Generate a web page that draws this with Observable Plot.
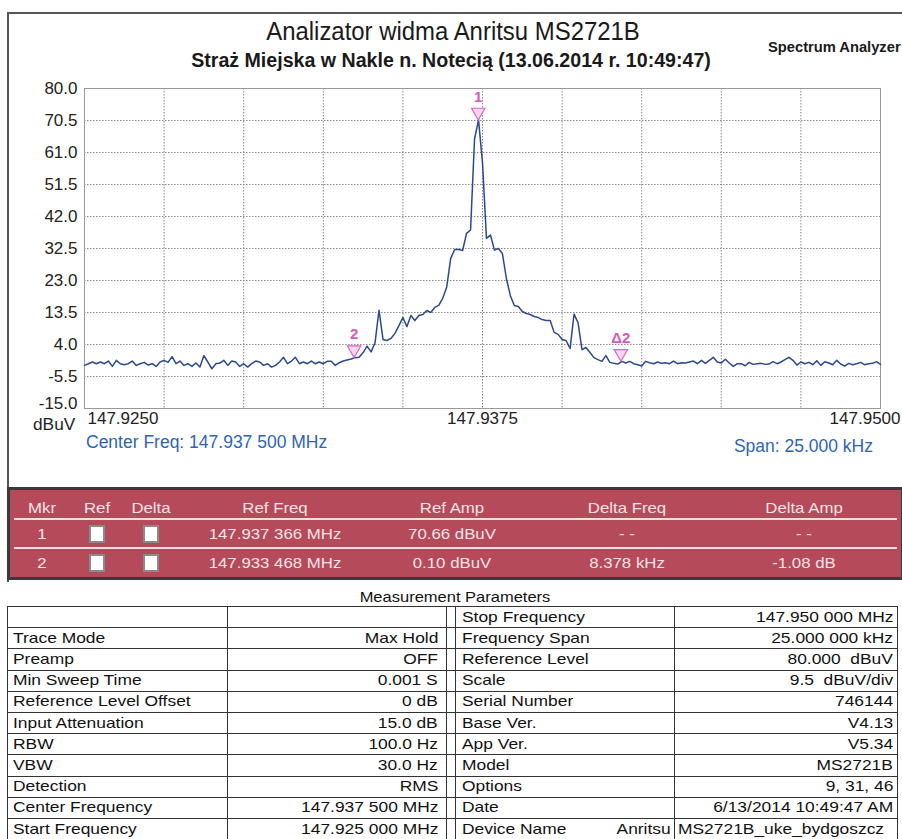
<!DOCTYPE html>
<html><head><meta charset="utf-8">
<script src="https://cdn.jsdelivr.net/npm/d3@7"></script>
<script src="https://cdn.jsdelivr.net/npm/@observablehq/plot@0.6"></script>
<style>
body{margin:0;background:#fff;font-family:"Liberation Sans",Arial,sans-serif;}
#page{position:relative;width:902px;height:839px;overflow:hidden;background:#fff;}
.abs{position:absolute;white-space:pre;}
.ln{position:absolute;background:#333;}
</style></head>
<body><div id="page"></div>
<script>
// ---------- data ----------
const startMHz = 147.925;      // start frequency
const stepKHz = 0.125;         // trace sampling step
const level = [ // dBuV, one value per 0.125 kHz from 147.925 MHz
 -2.2,-1.7,-1.2,-1.7,-1.2,-1.7,-0.9,-2.5,-0.7,-1.7,
 -2.0,-1.7,-0.9,-2.2,-1.7,-1.3,-2.1,-1.7,-2.5,-1.2,
 -0.7,-1.3,0.4,-1.7,-0.9,-2.2,-1.7,-2.5,-1.5,-2.7,
 0.7,-1.2,-3.2,-1.7,-1.5,-0.7,-2.2,-0.9,-1.2,-2.5,
 -1.7,-2.7,-1.7,-0.9,-1.2,-2.2,-1.7,-2.7,-2.2,-1.2,
 0.2,-1.7,-0.9,0.2,-1.7,-1.2,-1.7,-0.9,-1.7,-1.2,
 -1.7,-1.0,-1.0,-2.2,-1.4,-0.9,-0.6,-0.3,0.1,0.2,
 1.6,3.5,1.8,4.5,14.2,5.5,5.2,5.8,7.3,9.6,
 12.0,9.3,12.6,11.1,12.6,12.9,14.1,13.5,15.0,15.6,
 17.7,21.0,29.5,32.2,32.2,31.9,37.0,38.0,65.0,70.7,
 58.0,35.5,36.5,32.0,32.5,31.0,23.6,18.5,15.6,15.3,
 13.8,13.2,12.9,12.3,12.0,11.4,11.1,11.1,7.6,7.0,
 5.5,5.2,2.8,13.0,10.5,2.5,3.1,1.6,0.1,-0.5,
 -1.0,0.7,-1.3,-1.6,-1.8,-1.0,-1.5,-1.0,-1.7,-2.0,
 -2.4,-1.0,-1.4,-1.7,-1.2,-1.6,-1.4,-1.7,-0.9,-1.7,
 -1.4,-1.5,-1.2,-0.9,-1.7,-0.7,-1.6,-0.7,0.2,-1.2,
 -1.5,-0.4,-1.5,-2.5,-1.7,-1.7,-2.3,-1.3,-1.9,-1.7,
 -1.6,-1.9,-1.8,-1.1,-1.7,-1.2,-0.5,0.2,-0.7,-2.1,
 -1.2,-1.7,-1.3,-2.0,-0.8,-2.2,-1.1,-1.5,-2.0,-0.7,
 -1.8,-2.4,-1.6,-2.0,-1.7,-1.3,-2.0,-1.7,-1.6,-1.1,
 -1.9
];
const yTicks = [80.0, 70.5, 61.0, 51.5, 42.0, 32.5, 23.0, 13.5, 4.0, -5.5, -15.0];
const xGrid = [147.925,147.9275,147.93,147.9325,147.935,147.9375,147.94,147.9425,147.945,147.9475,147.95];
const xLabelVals = [147.925, 147.9375, 147.95];
const xLabelText = ["147.9250", "147.9375", "147.9500"];
const markerFreq = [147.937366, 147.933468, 147.941846];
const markerAmp = [70.66, 0.10, -0.98];
const markerLabel = ["1", "2", "Δ2"];

const mkrHeader = ["Mkr","Ref","Delta","Ref Freq","Ref Amp","Delta Freq","Delta Amp"];
const mkrRows = [
  ["1","","","147.937 366 MHz","70.66 dBuV","- -","- -"],
  ["2","","","147.933 468 MHz","0.10 dBuV","8.378 kHz","-1.08 dB"]
];
const leftLabels = ["","Trace Mode","Preamp","Min Sweep Time","Reference Level Offset","Input Attenuation","RBW","VBW","Detection","Center Frequency","Start Frequency"];
const leftValues = ["","Max Hold","OFF","0.001 S","0 dB","15.0 dB","100.0 Hz","30.0 Hz","RMS","147.937 500 MHz","147.925 000 MHz"];
const rightLabels = ["Stop Frequency","Frequency Span","Reference Level","Scale","Serial Number","Base Ver.","App Ver.","Model","Options","Date","Device Name"];
const rightValues = ["147.950 000 MHz","25.000 000 kHz","80.000  dBuV","9.5  dBuV/div","746144","V4.13","V5.34","MS2721B","9, 31, 46","6/13/2014 10:49:47 AM","Anritsu MS2721B_uke_bydgoszcz"];

// ---------- helpers ----------
const page = document.getElementById("page");
function div(cls, css, text){
  const d = document.createElement("div");
  d.className = cls; Object.assign(d.style, css);
  if (text !== undefined) d.textContent = text;
  page.appendChild(d); return d;
}
function textAt(x, yc, text, size, anchor, extra, sx){
  sx = sx || 1;
  const css = Object.assign({top:(yc - size*0.6)+"px", fontSize:size+"px", lineHeight:(size*1.2)+"px"}, extra||{});
  if (anchor === "middle"){ css.left = x+"px"; css.transform = `translateX(-50%) scaleX(${sx})`; css.transformOrigin = "center"; }
  else if (anchor === "end"){ css.right = (902 - x)+"px"; css.transform = `scaleX(${sx})`; css.transformOrigin = "right"; }
  else { css.left = x+"px"; css.transform = `scaleX(${sx})`; css.transformOrigin = "left"; }
  return div("abs", css, text);
}

// ---------- frame & titles ----------
div("ln", {left:"7px", top:"12px", width:"895px", height:"2px", background:"#555"});
div("ln", {left:"7px", top:"12px", width:"2px", height:"570px", background:"#555"});
textAt(453, 32, "Analizator widma Anritsu MS2721B", 26, "middle", {color:"#1a1a1a"}, 0.92);
textAt(451, 60, "Straż Miejska w Nakle n. Notecią (13.06.2014 r. 10:49:47)", 20, "middle", {color:"#1a1a1a", fontWeight:"bold"}, 0.98);
textAt(768, 47, "Spectrum Analyzer", 15, "start", {color:"#1a1a1a", fontWeight:"bold"}, 0.98);

// ---------- plot ----------
const trace = level.map((v, i) => ({f: startMHz + i * stepKHz / 1000, v}));
const markers = markerFreq.map((f, i) => ({f, v: markerAmp[i], label: markerLabel[i]}));
const xl = xLabelVals.map((f, i) => ({f, t: xLabelText[i]}));
const chart = Plot.plot({
  width: 902, height: 380,
  marginTop: 8, marginLeft: 84, marginRight: 22, marginBottom: 52,
  x: {domain: [147.925, 147.95], axis: null},
  y: {domain: [-15, 80], axis: null},
  style: {background: "transparent", fontFamily: '"Liberation Sans", Arial, sans-serif', overflow: "visible"},
  marks: [
    Plot.gridX(xGrid, {stroke: "#888", strokeOpacity: 1, strokeDasharray: "1.5,1.5"}),
    Plot.gridY(yTicks, {stroke: "#888", strokeOpacity: 1, strokeDasharray: "1.5,1.5"}),
    Plot.frame({stroke: "#999"}),
    Plot.axisY(yTicks.slice(0, -1), {tickSize: 0, tickPadding: 7, tickFormat: d => d.toFixed(1), fontSize: 17, fill: "#222", label: null}),
    Plot.axisY(yTicks.slice(-1), {tickSize: 0, tickPadding: 7, tickFormat: d => d.toFixed(1), fontSize: 17, fill: "#222", label: null, dy: -5}),
    Plot.text([xl[0]], {x: "f", text: "t", frameAnchor: "bottom", dy: 15, dx: 3, textAnchor: "start", fontSize: 17, fill: "#222"}),
    Plot.text([xl[1]], {x: "f", text: "t", frameAnchor: "bottom", dy: 15, textAnchor: "middle", fontSize: 17, fill: "#222"}),
    Plot.text([xl[2]], {x: "f", text: "t", frameAnchor: "bottom", dy: 15, dx: 20, textAnchor: "end", fontSize: 17, fill: "#222"}),
    Plot.line(trace, {x: "f", y: "v", stroke: "#2b4a8c", strokeWidth: 1.5}),
    Plot.dot(markers, {x: "f", y: "v", symbol: "triangle", rotate: 180, r: 5, dy: -7.8, fill: "#f8d7ee", stroke: "#d865c0", strokeWidth: 1.2}),
    Plot.text(markers, {x: "f", y: "v", text: "label", dy: -23, fill: "#d659bb", fontSize: 15, fontWeight: "bold"})
  ]
});
chart.style.position = "absolute";
chart.style.left = "0px";
chart.style.top = "80px";
page.appendChild(chart);

textAt(33, 425, "dBuV", 16, "start", {color:"#222"}, 1.08);
textAt(86, 442, "Center Freq: 147.937 500 MHz", 17.5, "start", {color:"#2f64b4"});
textAt(873, 446, "Span: 25.000 kHz", 17.5, "end", {color:"#2f64b4"});

// ---------- marker table ----------
div("abs", {left:"7px", top:"487px", width:"897px", height:"93px", background:"#b44a5a", border:"3px solid #3a3a3a", boxSizing:"border-box"});
const mkrX = [42, 97, 151, 275, 452, 627, 804];
const mkrY = [508, 534, 563];
mkrHeader.forEach((h, i) => textAt(mkrX[i], mkrY[0], h, 15, "middle", {color:"#f4e4e6"}, 1.12));
mkrRows.forEach((r, j) => r.forEach((c, i) => {
  if (i === 1 || i === 2) {
    div("abs", {left:(mkrX[i]-8)+"px", top:(mkrY[j+1]-9)+"px", width:"16px", height:"18px", background:"#fff", border:"2px solid #8a8a8a", boxSizing:"border-box"});
  } else textAt(mkrX[i], mkrY[j+1], c, 15, "middle", {color:"#f4e4e6"}, 1.12);
}));
div("ln", {left:"14px", top:"518px", width:"883px", height:"2px", background:"#f1dfe2"});
div("ln", {left:"14px", top:"547px", width:"883px", height:"2px", background:"#f1dfe2"});

// ---------- measurement parameters table ----------
textAt(455, 597, "Measurement Parameters", 15, "middle", {color:"#111"}, 1.1);
const tTop = 606, rowH = 21.2;
for (let i = 0; i <= 11; i++) div("ln", {left:"7px", top:(tTop + i*rowH)+"px", width:"891px", height:"1px"});
[7, 227, 446, 455, 674, 897].forEach(x => div("ln", {left:x+"px", top:tTop+"px", width:"1px", height:"240px"}));
const tf = 15, ts = 1.16;
leftLabels.forEach((t, i) => { if (t) textAt(13, tTop + (i+0.5)*rowH, t, tf, "start", {color:"#111"}, ts); });
leftValues.forEach((t, i) => { if (t) textAt(438, tTop + (i+0.5)*rowH, t, tf, "end", {color:"#111"}, ts); });
rightLabels.forEach((t, i) => textAt(462, tTop + (i+0.5)*rowH, t, tf, "start", {color:"#111"}, ts));
rightValues.forEach((t, i) => {
  const yc = tTop + (i+0.5)*rowH;
  if (i === rightValues.length - 1) {
    const sp = t.indexOf(" ");
    textAt(671, yc, t.slice(0, sp), tf, "end", {color:"#111"}, ts);
    textAt(678, yc, t.slice(sp + 1), tf, "start", {color:"#111"}, ts);
  } else textAt(893, yc, t, tf, "end", {color:"#111"}, ts);
});
</script>
</body></html>
